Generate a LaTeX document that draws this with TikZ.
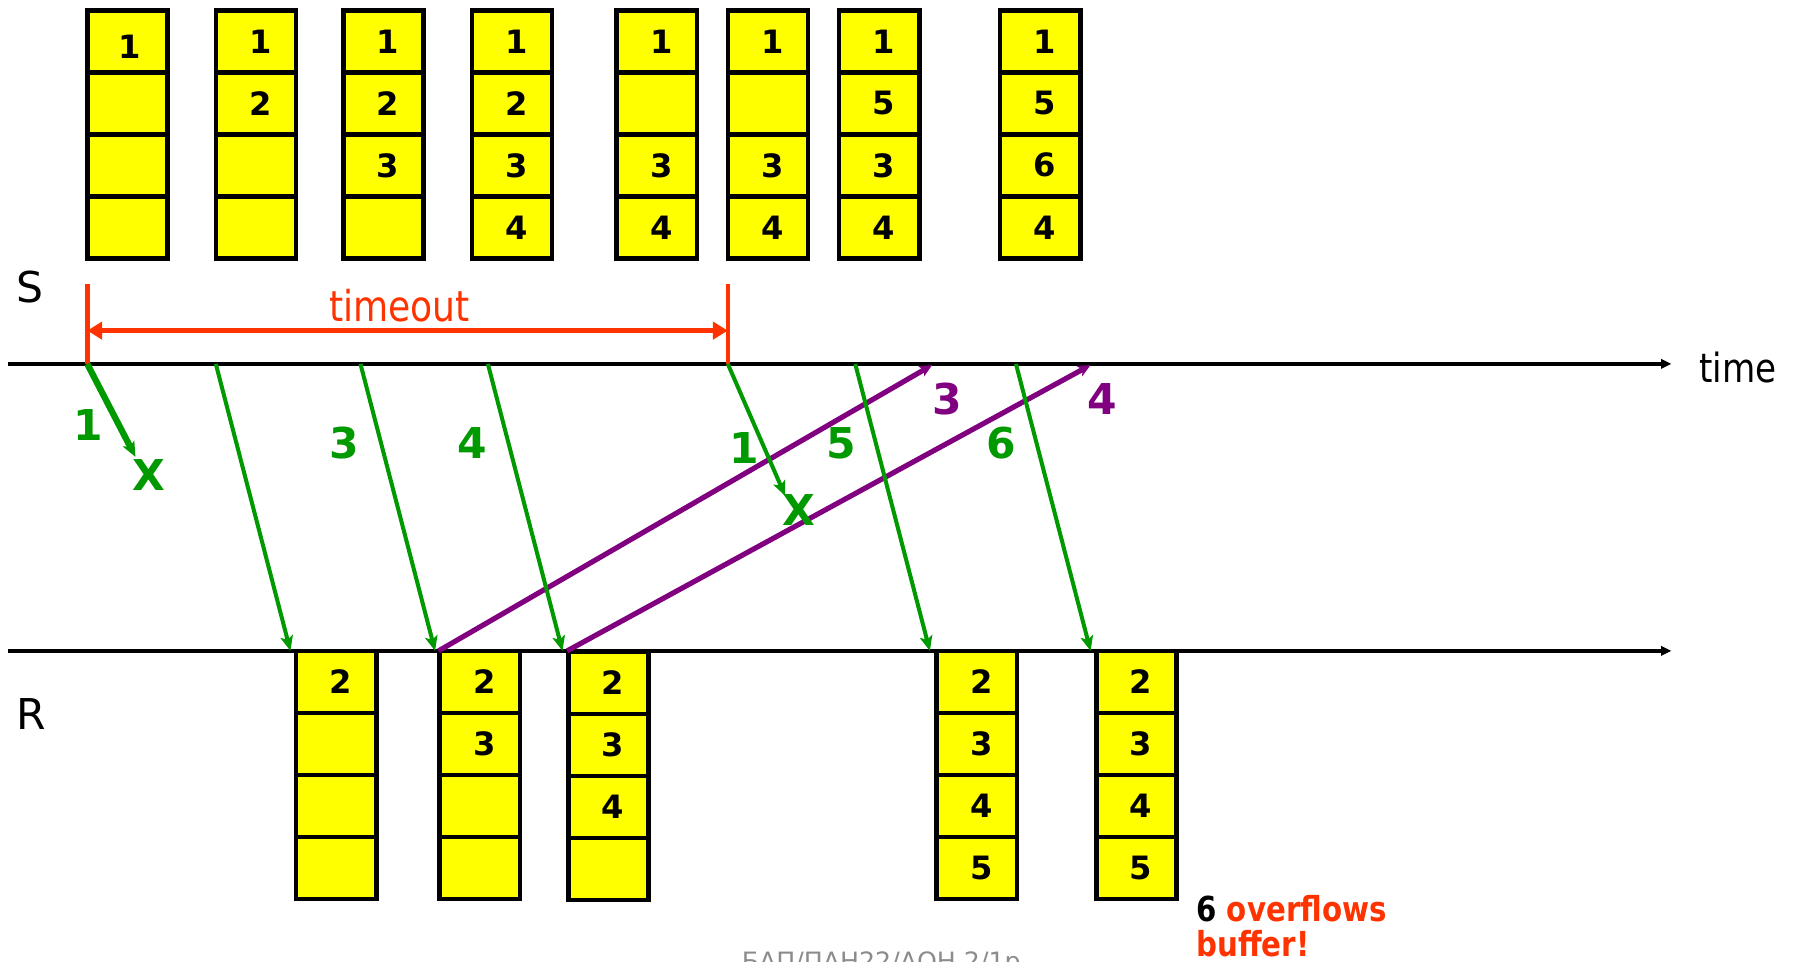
\documentclass[tikz,border=0pt]{standalone}
\usepackage{fontspec}
\setmainfont{DejaVu Sans}
\newfontfamily\narrowfont[FakeStretch=0.85]{DejaVu Sans}
\usetikzlibrary{arrows.meta}
\definecolor{pktgreen}{HTML}{009900}
\definecolor{ackpurple}{HTML}{800080}
\definecolor{tored}{HTML}{FF3300}
\definecolor{bufyellow}{HTML}{FFFF00}
\definecolor{footgray}{HTML}{8C8C8C}
\tikzset{
  cell/.style={draw=black, fill=bufyellow, line width=4pt, minimum width=70pt,
    minimum height=54pt, inner sep=0pt, font=\fontsize{28}{30}\selectfont\bfseries},
  axisline/.style={line width=3pt, -{Triangle[length=9pt,width=8pt]}},
  redtick/.style={draw=tored, line width=4pt},
  redspan/.style={draw=tored, line width=4pt, {Triangle[length=13pt,width=15pt]}-{Triangle[length=13pt,width=15pt]}},
  pkt/.style={draw=pktgreen, line width=3.5pt, -{Stealth[length=13pt,width=11pt,inset=3pt]}},
  pktlost/.style={pkt, line width=5.5pt},
  ack/.style={draw=ackpurple, line width=4.5pt, -{Stealth[length=11pt,width=10pt,inset=3pt]}},
  greenlbl/.style={text=pktgreen, inner sep=0pt, font=\fontsize{37}{40}\selectfont\bfseries},
  purplelbl/.style={text=ackpurple, inner sep=0pt, font=\fontsize{37}{40}\selectfont\bfseries},
  sidelbl/.style={inner sep=0pt, font=\fontsize{37}{40}\selectfont},
}
\newcommand\drawbuf[7]{%
  \node[cell] (#1-1) at (#2+35,#3+27) {\hspace*{8pt}#4};
  \node[cell] (#1-2) at (#2+35,#3+81) {\hspace*{8pt}#5};
  \node[cell] (#1-3) at (#2+35,#3+135) {\hspace*{8pt}#6};
  \node[cell] (#1-4) at (#2+35,#3+189) {\hspace*{8pt}#7};
}
\begin{document}
\begin{tikzpicture}[x=1pt,y=-1pt]
\useasboundingbox (0,0) rectangle (1568,838);

% sender buffers
\drawbuf{sb1}{76}{9}{}{}{}{}
\node[inner sep=0pt, font=\fontsize{28}{30}\selectfont\bfseries] (sb1-txt) at (113,41) {1};
\drawbuf{sb2}{188}{9}{1}{2}{}{}
\drawbuf{sb3}{299}{9}{1}{2}{3}{}
\drawbuf{sb4}{411}{9}{1}{2}{3}{4}
\drawbuf{sb5}{537}{9}{1}{}{3}{4}
\drawbuf{sb6}{634}{9}{1}{}{3}{4}
\drawbuf{sb7}{731}{9}{1}{5}{3}{4}
\drawbuf{sb8}{871}{9}{1}{5}{6}{4}

% side labels
\node[sidelbl] (S) at (26,250) {S};
\node[sidelbl] (R) at (27,622) {R};

% time axes
\coordinate (sL) at (7,317);
\coordinate (sR) at (1456,317);
\coordinate (rL) at (7,567);
\coordinate (rR) at (1456,567);
\draw[axisline] (sL) -- (sR);
\draw[axisline] (rL) -- (rR);
\node[inner sep=0pt, font=\narrowfont\fontsize{35}{36}\selectfont, anchor=west] (time) at (1480,320) {time};

% timeout
\coordinate (t0top) at (76,247);
\coordinate (t0) at (76,317);
\coordinate (t1top) at (634,247);
\coordinate (t1) at (634,317);
\coordinate (ta) at (76,288);
\coordinate (tb) at (634,288);
\draw[redtick] (t0top) -- (t0);
\draw[redtick] (t1top) -- (t1);
\draw[redspan] (ta) -- (tb);
\node[inner sep=0pt, text=tored, font=\narrowfont\fontsize{37}{38}\selectfont] (tmo) at (348,266) {timeout};

% packet departure / arrival points
\coordinate (d1) at (76,317);
\coordinate (l1) at (118,398);
\coordinate (d2) at (188,317);
\coordinate (a2) at (253,567);
\coordinate (d3) at (314,317);
\coordinate (a3) at (379,567);
\coordinate (d4) at (425,317);
\coordinate (a4) at (490,567);
\coordinate (d1b) at (634,317);
\coordinate (l1b) at (684,432);
\coordinate (d5) at (745,317);
\coordinate (a5) at (810,567);
\coordinate (d6) at (885,317);
\coordinate (a6) at (950,567);
% ack points
\coordinate (k3s) at (382,567);
\coordinate (k3e) at (812,318);
\coordinate (k4s) at (494,567);
\coordinate (k4e) at (950,318);

% receiver buffers
\drawbuf{rb1}{258}{567}{2}{}{}{}
\drawbuf{rb2}{383}{567}{2}{3}{}{}
\drawbuf{rb3}{495}{568}{2}{3}{4}{}
\drawbuf{rb4}{816}{567}{2}{3}{4}{5}
\drawbuf{rb5}{955}{567}{2}{3}{4}{5}

% acks
\draw[ack] (k3s) -- (k3e);
\draw[ack] (k4s) -- (k4e);

% packets
\draw[pktlost] (d1) -- (l1);
\draw[pkt] (d2) -- (a2);
\draw[pkt] (d3) -- (a3);
\draw[pkt] (d4) -- (a4);
\draw[pkt] (d1b) -- (l1b);
\draw[pkt] (d5) -- (a5);
\draw[pkt] (d6) -- (a6);

% labels
\node[greenlbl] (g1) at (77,370) {1};
\node[greenlbl] (x1) at (130,414) {X};
\node[greenlbl] (g3) at (300,386) {3};
\node[greenlbl] (g4) at (411,386) {4};
\node[greenlbl] (g1b) at (648,390) {1};
\node[greenlbl] (x1b) at (696,444) {X};
\node[greenlbl] (g5) at (733,386) {5};
\node[greenlbl] (g6) at (872,386) {6};
\node[purplelbl] (p3) at (825,348) {3};
\node[purplelbl] (p4) at (960,348) {4};

% overflow note
\node[inner sep=0pt, anchor=base west, font=\narrowfont\bfseries\fontsize{30}{32}\selectfont] (ovf1) at (1042,803) {6 \textcolor{tored}{overflows}};
\node[inner sep=0pt, anchor=base west, text=tored, font=\narrowfont\bfseries\fontsize{30}{32}\selectfont] (ovf2) at (1042,833) {buffer!};

% footer (cut by page edge, as in the reference)
\node[inner sep=0pt, anchor=north west, text=footgray, font=\fontsize{22}{24}\selectfont] (foot) at (646,829) {БАП/ПАН22/АОН 2/1р};
\end{tikzpicture}
\end{document}
